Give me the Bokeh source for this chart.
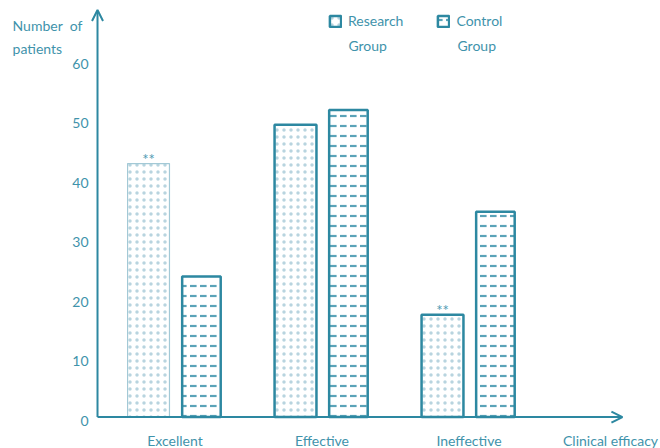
from bokeh.plotting import figure
from bokeh.models import Range1d, Arrow, OpenHead, Label, Legend, LegendItem, ColumnDataSource
from bokeh.core.properties import value
from bokeh.embed import file_html
from bokeh.resources import INLINE

categories = ["Excellent", "Effective", "Ineffective"]
research = [42.6, 49.1, 17.2]
control = [23.6, 51.6, 34.5]
research_marks = ["**", "", "**"]
y_ticks = [0, 10, 20, 30, 40, 50, 60]

TEAL = "#2d88a1"
LIGHT = "#a3c9d6"
TXT = "#3f93ab"
FONT = "Lato"

xs = list(range(len(categories)))
off = 0.18
bw = 0.285
X0 = -0.527  # position of the value axis

src_r = ColumnDataSource(dict(
    x=[x - off for x in xs], top=research, mark=research_marks,
    lc=[LIGHT, TEAL, TEAL], lw=[1.2, 2.5, 2.5],
))
src_c = ColumnDataSource(dict(x=[x + off for x in xs], top=control))

p = figure(width=660, height=448, output_backend="svg", toolbar_location=None,
           x_range=Range1d(-1.187, 3.303), y_range=Range1d(-5.29, 70.0),
           min_border=0)
p.outline_line_color = None
p.grid.visible = False
p.axis.visible = False
p.background_fill_color = "white"

rr = p.vbar(x="x", top="top", width=bw, source=src_r, fill_color="white",
            line_color="lc", line_width="lw",
            hatch_pattern="dot", hatch_color="#b8d4df", hatch_scale=7, hatch_weight=1)
rc = p.vbar(x="x", top="top", width=bw * 0.92, source=src_c, fill_color="white",
            line_color=TEAL, line_width=2.5,
            hatch_pattern="horizontal_dash", hatch_color="#5aa3b8", hatch_scale=10, hatch_weight=2.2)

p.text(x="x", y="top", text="mark", source=src_r, text_align="center", text_baseline="bottom",
       text_color="#4f9bb2", text_font_size="15px", text_font=value(FONT), y_offset=4)

# value-axis tick labels
p.text(x=[X0] * len(y_ticks), y=y_ticks, text=[str(t) for t in y_ticks],
       text_align="right", text_baseline="middle", x_offset=-9, y_offset=3.5,
       text_color=TXT, text_font=value(FONT), text_font_size="14px")
# category labels
p.text(x=xs, y=[0] * len(xs), text=categories, text_align="center", text_baseline="top",
       y_offset=15, text_color=TXT, text_font=value(FONT), text_font_size="14px")

# axis arrows
p.add_layout(Arrow(end=OpenHead(size=11, line_color=TEAL, line_width=2),
                   x_start=X0, y_start=0, x_end=3.044, y_end=0,
                   line_color=TEAL, line_width=2))
p.add_layout(Arrow(end=OpenHead(size=11, line_color=TEAL, line_width=2),
                   x_start=X0, y_start=0, x_end=X0, y_end=68.4,
                   line_color=TEAL, line_width=2))

p.add_layout(Label(x=-1.105, y=65.8, text="Number\u00a0\u00a0of", text_color=TXT,
                   text_font=FONT, text_font_size="14px", text_baseline="middle"))
p.add_layout(Label(x=-1.105, y=61.9, text="patients", text_color=TXT,
                   text_font=FONT, text_font_size="14px", text_baseline="middle"))
p.add_layout(Label(x=2.963, y=-3.9, text="Clinical efficacy", text_color=TXT,
                   text_font=FONT, text_font_size="14px", text_align="center", text_baseline="middle"))
p.add_layout(Label(x=1.180, y=62.5, text="Group", text_color=TXT,
                   text_font=FONT, text_font_size="14px", text_baseline="middle"))
p.add_layout(Label(x=1.922, y=62.5, text="Group", text_color=TXT,
                   text_font=FONT, text_font_size="14px", text_baseline="middle"))

legend = Legend(items=[LegendItem(label="Research", renderers=[rr], index=1),
                       LegendItem(label="Control", renderers=[rc], index=0)],
                orientation="horizontal", location=(328, 419),
                glyph_width=14, glyph_height=14, label_standoff=6, spacing=33,
                padding=0, margin=0, border_line_color=None, background_fill_alpha=0,
                label_text_color=TXT, label_text_font=FONT, label_text_font_size="14px")
p.add_layout(legend)

open("out.html", "w").write(file_html(p, INLINE))
